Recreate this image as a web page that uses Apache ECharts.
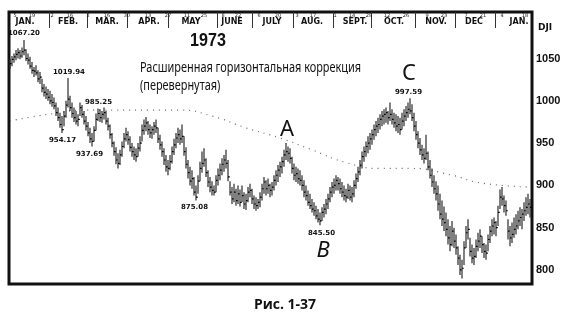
<!DOCTYPE html>
<html>
<head>
<meta charset="utf-8">
<script src="https://cdn.jsdelivr.net/npm/echarts@6/dist/echarts.min.js"></script>
<style>
  html, body { margin: 0; padding: 0; background: #fff; }
  #chart { width: 570px; height: 318px; }
</style>
</head>
<body>
<div id="chart"></div>
<script>
// DJI daily bars, 1973 - early Jan 1974 (trading-day index on x)
var hi = [
  1050,1053,1056,1060,1062,1060,1063,1072,1061,1056,
  1052,1046,1040,1042,1036,1034,1026,1020,1017,1014,
  1012,1008,1004,998,992,986,982,988,1000,1027,
  1006,998,992,988,984,998,995,988,982,975,
  968,962,970,985,991,990,988,992,988,980,
  972,962,952,945,938,942,952,962,968,964,
  958,950,946,944,950,958,972,978,981,976,
  972,970,975,978,968,960,952,944,936,930,
  936,946,955,962,968,966,972,958,945,930,
  922,918,910,900,912,928,940,944,932,918,
  910,905,900,912,920,926,932,936,942,930,
  905,898,902,896,900,895,900,892,890,898,
  902,896,888,886,884,892,902,910,906,908,
  902,904,912,918,924,928,934,942,950,946,
  944,934,926,922,920,918,912,906,900,894,
  890,884,880,876,872,868,874,878,884,890,
  898,904,908,912,910,908,904,900,896,902,
  900,898,906,914,922,930,940,946,952,958,
  962,966,972,976,980,984,988,990,992,988,
  998,990,986,984,982,980,986,990,994,998,
  1003,996,986,976,964,956,948,944,960,940,
  930,920,912,905,900,890,882,875,868,860,
  852,858,850,842,828,818,812,834,852,860,
  838,830,826,836,844,848,840,832,830,842,
  852,860,862,858,876,895,898,888,882,860,
  852,856,862,866,870,874,872,880,886,890,884
];
var lo = [
  1038,1041,1045,1048,1050,1049,1051,1054,1047,1043,
  1038,1032,1028,1030,1022,1020,1010,1005,1002,1000,
  996,993,990,982,976,968,962,970,980,992,
  988,980,975,972,970,982,980,972,965,958,
  950,946,952,965,976,975,974,978,972,965,
  955,945,935,925,920,924,934,944,952,948,
  940,934,930,928,934,940,952,960,964,960,
  956,955,960,962,950,942,934,924,916,912,
  918,926,936,944,950,948,950,935,920,908,
  900,896,888,882,890,905,915,922,910,898,
  892,888,888,892,900,906,912,916,920,905,
  888,878,880,876,878,875,880,872,871,880,
  886,878,872,870,872,874,882,890,888,890,
  886,888,894,900,904,910,914,922,930,928,
  926,914,906,904,902,900,894,886,882,876,
  872,868,864,860,856,853,858,862,866,872,
  880,886,890,894,894,890,886,882,880,884,
  882,880,886,896,904,912,920,928,934,938,
  942,948,954,958,962,966,970,972,974,972,
  976,972,968,964,962,960,966,970,976,980,
  984,976,964,954,944,936,930,926,930,918,
  908,898,890,882,870,860,852,846,840,830,
  822,828,826,818,806,794,790,806,826,836,
  816,808,806,814,822,826,820,814,812,822,
  832,840,842,840,852,872,876,868,864,836,
  828,832,838,842,848,852,848,858,864,866,862
];
var cl = [
  1044,1049,1052,1055,1057,1053,1058,1060,1050,1048,
  1041,1036,1035,1033,1026,1028,1015,1010,1008,1004,
  1000,998,994,986,980,972,966,982,995,1002,
  992,985,980,976,978,992,984,976,970,962,
  955,952,965,978,985,980,984,986,976,970,
  960,950,940,930,926,936,946,955,960,954,
  945,940,936,934,944,950,965,970,974,966,
  962,966,970,968,955,948,940,930,922,920,
  928,940,948,956,960,955,958,940,925,915,
  905,908,892,886,905,920,926,930,915,904,
  898,894,892,906,912,918,925,930,926,910,
  892,884,892,882,890,880,888,878,882,892,
  894,884,878,876,880,886,896,904,896,900,
  894,898,906,912,918,922,928,936,940,938,
  932,920,912,914,908,906,900,892,888,880,
  876,872,870,864,860,858,868,872,878,884,
  892,898,900,906,902,896,892,888,886,894,
  886,890,900,908,916,924,934,940,946,950,
  955,960,966,970,972,978,982,984,986,980,
  984,978,974,970,972,966,976,982,986,990,
  988,980,970,960,950,942,936,932,938,922,
  912,904,896,890,878,866,860,856,848,838,
  830,846,834,826,814,800,802,826,844,848,
  822,814,816,828,834,840,830,822,820,836,
  846,852,856,850,868,886,884,876,870,846,
  838,842,848,852,858,862,866,870,874,878,874
];

// dotted moving average, read at a few points [day index, value]
var maPts = [[0,976],[11,981],[22,985],[37,989],[85,989],[101,982],[118,968],[135,956],
             [151,942],[168,927],[185,920],[201,920],[221,912],[235,903],[260,898]];

// header: month names, month separators, biweekly friday dates
var monthNames = ['JAN.','FEB.','MAR.','APR.','MAY','JUNE','JULY','AUG.','SEPT.','OCT.','NOV.','DEC','JAN.'];
var monthPos   = [7.5, 29, 48.5, 69.5, 90.5, 111, 131, 151, 172.5, 192, 213, 232, 254.5];
var sepPos     = [19.5, 38.5, 58.5, 79, 103.5, 121, 141.5, 161.5, 180.5, 202.5, 222.5, 242.5];
var dateLabels = ['5','19','2','16','2','16','30','13','27','11','25','8','22','6','20','3','17','1','14','28','12','26','9','23','7','21','4','18'];
var datePos    = [2.5,11,21,30,39,48.5,58.5,69,79,88.5,97,106.5,114,124.5,134,143.5,151.5,162.5,171,179.5,188.5,198,208.5,217,228,236.5,246,257.5];
var yTicks = [800, 850, 900, 950, 1000, 1050];

var bars = [];
for (var k = 0; k < hi.length; k++) {
    bars.push([k, hi[k], lo[k], cl[k]]);
}

// text helper: narrow look is done with scaleX since no condensed font is installed
function txt(s, x, y, font, sx, align) {
    return {
        type: 'text', x: x, y: y, scaleX: sx || 1,
        style: { text: s, x: 0, y: 0, font: font, fill: '#111',
                 textAlign: align || 'left', textVerticalAlign: 'middle' }
    };
}

var chart = echarts.init(document.getElementById('chart'));

var option = {
    backgroundColor: '#fff',
    animation: false,
    grid: {
        left: 9, right: 38, top: 12, bottom: 34,
        show: true, borderColor: '#111', borderWidth: 3, backgroundColor: '#fff'
    },
    xAxis: [
        {
            type: 'value', min: -0.5, max: 261, position: 'top',
            axisLine: { show: false },
            splitLine: { show: false },
            axisTick: { show: true, inside: true, length: 16, customValues: sepPos,
                        lineStyle: { color: '#333', width: 1 } },
            axisLabel: {
                inside: true, margin: 6, customValues: monthPos,
                fontSize: 8, fontWeight: 'bold', color: '#111', fontFamily: 'DejaVu Sans',
                formatter: function (v) { return monthNames[monthPos.indexOf(v)]; }
            }
        },
        {
            type: 'value', min: -0.5, max: 261, position: 'top',
            axisLine: { show: false },
            splitLine: { show: false },
            axisTick: { show: false },
            axisLabel: {
                inside: true, margin: 1, customValues: datePos,
                fontSize: 5, color: '#222', fontFamily: 'DejaVu Sans',
                formatter: function (v) { return dateLabels[datePos.indexOf(v)]; }
            }
        }
    ],
    yAxis: {
        type: 'value', position: 'right', min: 783.4, max: 1105,
        axisLine: { show: false }, axisTick: { show: false }, splitLine: { show: false },
        axisLabel: {
            customValues: yTicks, margin: 4,
            fontSize: 11, fontWeight: 'bold', color: '#111', fontFamily: 'Liberation Sans',
            formatter: function (v) { return String(v); }
        }
    },
    series: [
        {
            type: 'line', data: maPts, smooth: true, symbol: 'none',
            lineStyle: { color: '#666', width: 1.2, type: [1, 5] },
            z: 1
        },
        {
            type: 'custom', data: bars, clip: true, z: 2,
            renderItem: function (params, api) {
                var d = api.value(0);
                var top = api.coord([d, api.value(1)]);
                var bot = api.coord([d, api.value(2)]);
                var c = api.coord([d, api.value(3)]);
                return {
                    type: 'group',
                    children: [
                        { type: 'line', shape: { x1: top[0], y1: top[1], x2: bot[0], y2: bot[1] },
                          style: { stroke: '#2a2a2a', lineWidth: 1.2 } },
                        { type: 'line', shape: { x1: c[0], y1: c[1], x2: c[0] + 1.8, y2: c[1] },
                          style: { stroke: '#000', lineWidth: 1.2 } }
                    ]
                };
            }
        }
    ],
    graphic: [
        txt('DJI', 538, 28, "bold 9px 'DejaVu Sans'"),
        txt('1973', 208, 41, "bold 19px 'Liberation Sans'", 0.85, 'center'),
        txt('Расширенная горизонтальная коррекция', 140, 68, "14px 'Noto Sans'", 0.78),
        txt('(перевернутая)', 140, 86, "14px 'Noto Sans'", 0.78),
        txt('A', 287, 130, "22px 'Noto Sans'", 1, 'center'),
        txt('B', 323, 251, "italic 22px 'Noto Sans'", 1, 'center'),
        txt('C', 409, 74, "22px 'Noto Sans'", 1, 'center'),
        txt('1067.20', 8, 33, "bold 7px 'DejaVu Sans'"),
        txt('1019.94', 53, 72, "bold 7px 'DejaVu Sans'"),
        txt('954.17', 49, 140, "bold 7px 'DejaVu Sans'"),
        txt('985.25', 85, 102, "bold 7px 'DejaVu Sans'"),
        txt('937.69', 76, 154, "bold 7px 'DejaVu Sans'"),
        txt('875.08', 181, 207, "bold 7px 'DejaVu Sans'"),
        txt('845.50', 308, 233, "bold 7px 'DejaVu Sans'"),
        txt('997.59', 395, 92, "bold 7px 'DejaVu Sans'"),
        txt('Рис. 1-37', 285, 305, "bold 14px 'Open Sans'", 1, 'center')
    ]
};

chart.setOption(option);
</script>
</body>
</html>
